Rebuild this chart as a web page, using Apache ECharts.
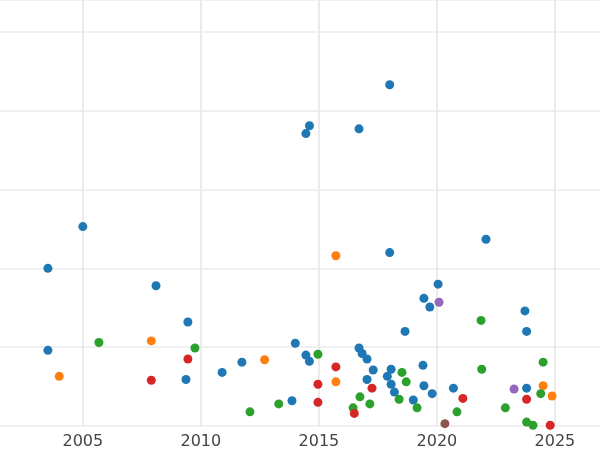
<!DOCTYPE html><html><head><meta charset="utf-8"><script src="https://cdn.jsdelivr.net/npm/echarts@6/dist/echarts.min.js"></script></head><body style="margin:0"><div id="c" style="width:600px;height:450px"></div><script>
const blue=[[2018.0,4.33],[2014.6,3.81],[2014.45,3.71],[2016.7,3.77],[2005.0,2.53],[2003.52,2.0],[2018.0,2.2],[2022.08,2.37],[2008.1,1.78],[2020.05,1.8],[2019.45,1.62],[2019.7,1.51],[2023.73,1.46],[2009.45,1.32],[2018.65,1.2],[2023.8,1.2],[2003.52,0.96],[2014.0,1.05],[2016.7,0.99],[2016.83,0.92],[2014.45,0.9],[2014.6,0.82],[2017.04,0.85],[2011.74,0.81],[2017.3,0.71],[2010.9,0.68],[2018.06,0.72],[2017.9,0.63],[2019.41,0.77],[2017.04,0.59],[2009.37,0.59],[2018.06,0.53],[2019.45,0.51],[2020.7,0.48],[2023.8,0.48],[2018.2,0.43],[2019.8,0.41],[2019.0,0.33],[2013.86,0.32]];
const orange=[[2015.72,2.16],[2007.9,1.08],[2004.0,0.63],[2012.7,0.84],[2015.72,0.56],[2024.5,0.51],[2024.88,0.38]];
const green=[[2005.68,1.06],[2009.75,0.99],[2014.96,0.91],[2021.87,1.34],[2021.9,0.72],[2024.5,0.81],[2018.52,0.68],[2018.7,0.56],[2016.74,0.37],[2017.16,0.28],[2018.4,0.34],[2016.45,0.23],[2013.3,0.28],[2012.08,0.18],[2019.16,0.23],[2020.85,0.18],[2022.9,0.23],[2024.4,0.41],[2023.8,0.05],[2024.07,0.01]];
const red=[[2009.45,0.85],[2007.9,0.58],[2015.72,0.75],[2014.96,0.53],[2014.96,0.3],[2017.25,0.48],[2016.5,0.16],[2021.1,0.35],[2023.8,0.34],[2024.8,0.01]];
const purple=[[2020.09,1.57],[2023.27,0.47]];
const brown=[[2020.34,0.03]];
const groups=[[blue,'#1f77b4'],[orange,'#ff7f0e'],[green,'#2ca02c'],[red,'#d62728'],[purple,'#9467bd'],[brown,'#8c564b']];
const ch=echarts.init(document.getElementById('c'));
ch.setOption({animation:false,grid:{left:0,right:0,top:0,bottom:22},
xAxis:{type:'value',min:2001.49,max:2026.91,interval:5,axisLine:{show:false},
 axisLabel:{color:'#444',fontSize:16,fontFamily:'DejaVu Sans',customValues:[2005,2010,2015,2020,2025],formatter:v=>Math.round(v)},
 splitLine:{show:true,lineStyle:{color:'#ebebeb',width:2}},
 axisTick:{show:false,customValues:[2005,2010,2015,2020,2025]}},
yAxis:{type:'value',min:0,max:5.405,interval:1,axisLabel:{show:false},axisLine:{show:false},axisTick:{show:false},splitLine:{lineStyle:{color:'#ebebeb',width:1.5}}},
series:groups.map(g=>({type:'scatter',clip:true,data:g[0],symbolSize:9,itemStyle:{color:g[1],opacity:1}}))});
</script></body></html>
